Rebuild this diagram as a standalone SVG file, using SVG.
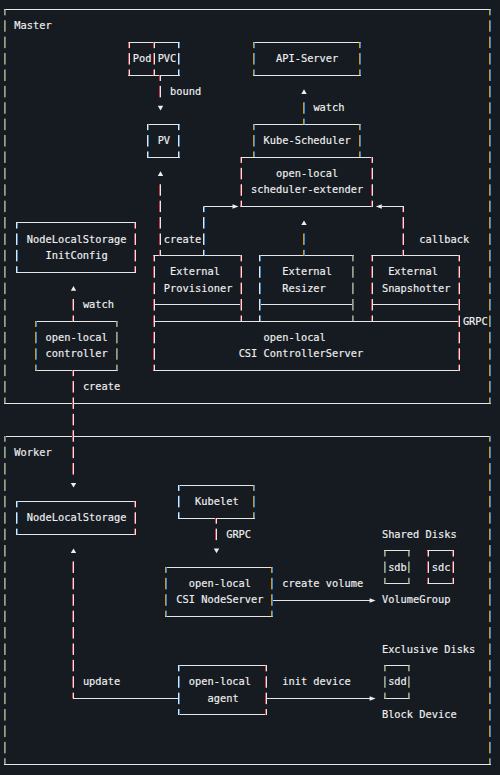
<svg xmlns="http://www.w3.org/2000/svg" width="500" height="775" viewBox="0 0 500 775">
<defs>
<style>
.h{stroke:#e6e6e6;stroke-width:1;fill:none}
.v{fill:none;stroke-width:1;stroke-dasharray:11.5 4.9;stroke-dashoffset:5.75}
.ya{stroke:#c49a30}.bl{stroke:#3f88c8}.rd{stroke:#c8404c}.wh{stroke:#e6e6e6}
text{font-family:"DejaVu Sans Mono","Liberation Mono",monospace;font-size:10.35px;fill:#f0f0f0;stroke:#f0f0f0;stroke-width:0.15}
.arr{fill:#eeeeee}
</style>
<path id="tu" d="M0-2.4L2.7 2.3H-2.7Z"/>
<path id="td" d="M0 2.4L2.7-2.3H-2.7Z"/>
<path id="tr" d="M3 0L-3-2.3V2.3Z"/>
<path id="tl" d="M-3 0L3-2.3V2.3Z"/>
</defs>
<rect width="500" height="775" fill="#161b22"/>

<g id="master">
<path class="h" d="M4 9.5H491M4 403.5H491"/>
<path class="v ya" d="M4.5 9.6V403.2M489.5 9.6V403.2"/>
<path class="v bl" d="M5.5 9.6V403.2M490.5 9.6V403.2"/>
<text x="14.35" y="29.4">Master</text>
</g>

<g id="worker">
<path class="h" d="M4 436.5H491M4 764.5H491"/>
<path class="v ya" d="M4.5 436V764M489.5 436V764"/>
<path class="v bl" d="M5.5 436V764M490.5 436V764"/>
<text x="14.35" y="455.8">Worker</text>
</g>

<g id="pod">
<path class="h" d="M128 42.5H155M128 75.5H155"/>
<path class="v rd" d="M128.5 42.4V75.2M153.5 42.4V75.2"/>
<path class="v wh" d="M129.5 42.4V75.2M154.5 42.4V75.2"/>
<text x="132.72" y="62.2">Pod</text>
</g>

<g id="pvc">
<path class="h" d="M154 42.5H180M154 75.5H180"/>
<path class="v wh" d="M178.5 42.4V75.2"/>
<path class="v bl" d="M179.5 42.4V75.2"/>
<text x="157.64" y="62.2">PVC</text>
</g>

<g id="api-server">
<path class="h" d="M253 42.5H361M253 75.5H361"/>
<path class="v ya" d="M253.5 42.4V75.2M359.5 42.4V75.2"/>
<path class="v bl" d="M254.5 42.4V75.2M360.5 42.4V75.2"/>
<text x="276" y="62.2">API-Server</text>
</g>

<g id="pv">
<path class="h" d="M147 124.5H180M147 157.5H180"/>
<path class="v wh" d="M147.5 124.4V157.2M178.5 124.4V157.2"/>
<path class="v bl" d="M148.5 124.4V157.2M179.5 124.4V157.2"/>
<text x="157.64" y="144.2">PV</text>
</g>

<g id="kube-scheduler">
<path class="h" d="M253 124.5H361"/>
<path class="v ya" d="M253.5 124.4V157.2M359.5 124.4V157.2"/>
<path class="v bl" d="M254.5 124.4V157.2M360.5 124.4V157.2"/>
<text x="263.55" y="144.2">Kube-Scheduler</text>
</g>

<g id="scheduler-extender">
<path class="h" d="M240 157.5H373M240 206.5H373"/>
<path class="v rd" d="M240.5 157.2V206.4M371.5 157.2V206.4"/>
<path class="v wh" d="M241.5 157.2V206.4M372.5 157.2V206.4"/>
<text x="276" y="177">open-local</text>
<text x="251.09" y="193.4">scheduler-extender</text>
</g>

<g id="nls-initconfig">
<path class="h" d="M16 222.5H136M16 272.5H136"/>
<path class="v wh" d="M16.5 222.8V272"/>
<path class="v bl" d="M17.5 222.8V272"/>
<path class="v rd" d="M134.5 222.8V272"/>
<path class="v wh" d="M135.5 222.8V272"/>
<text x="26.81" y="242.6">NodeLocalStorage</text>
<text x="45.5" y="259">InitConfig</text>
</g>

<g id="controller">
<path class="h" d="M35 321.5H118M35 370.5H118"/>
<path class="v ya" d="M35.5 321.2V370.4M116.5 321.2V370.4"/>
<path class="v bl" d="M36.5 321.2V370.4M117.5 321.2V370.4"/>
<text x="45.5" y="341">open-local</text>
<text x="45.5" y="357.4">controller</text>
</g>

<g id="external-provisioner">
<path class="h" d="M153 255.5H242M153 304.5H242"/>
<path class="v rd" d="M153.5 255.6V321.2M240.5 255.6V321.2"/>
<path class="v wh" d="M154.5 255.6V321.2M241.5 255.6V321.2"/>
<text x="170.1" y="275.4">External</text>
<text x="163.87" y="291.8">Provisioner</text>
</g>

<g id="external-resizer">
<path class="h" d="M259 255.5H354M259 304.5H354"/>
<path class="v wh" d="M259.5 255.6V321.2"/>
<path class="v bl" d="M260.5 255.6V321.2"/>
<path class="v ya" d="M352.5 255.6V321.2"/>
<path class="v bl" d="M353.5 255.6V321.2"/>
<text x="282.24" y="275.4">External</text>
<text x="282.24" y="291.8">Resizer</text>
</g>

<g id="external-snapshotter">
<path class="h" d="M371 255.5H460M371 304.5H460"/>
<path class="v rd" d="M371.5 255.6V321.2M458.5 255.6V321.2"/>
<path class="v wh" d="M372.5 255.6V321.2M459.5 255.6V321.2"/>
<text x="388.15" y="275.4">External</text>
<text x="381.92" y="291.8">Snapshotter</text>
</g>

<g id="csi-controllerserver">
<path class="h" d="M153 321.5H460M153 370.5H460"/>
<path class="v rd" d="M153.5 321.2V370.4M458.5 321.2V370.4"/>
<path class="v wh" d="M154.5 321.2V370.4M459.5 321.2V370.4"/>
<text x="263.55" y="341">open-local</text>
<text x="238.63" y="357.4">CSI ControllerServer</text>
<text x="462.9" y="324.6">GRPC</text>
</g>

<g id="nodelocalstorage">
<path class="h" d="M16 501.5H136M16 534.5H136"/>
<path class="v wh" d="M16.5 501.6V534.4"/>
<path class="v bl" d="M17.5 501.6V534.4"/>
<path class="v rd" d="M134.5 501.6V534.4"/>
<path class="v wh" d="M135.5 501.6V534.4"/>
<text x="26.81" y="521.4">NodeLocalStorage</text>
</g>

<g id="kubelet">
<path class="h" d="M178 485.5H255M178 518.5H255"/>
<path class="v wh" d="M178.5 485.2V518"/>
<path class="v bl" d="M179.5 485.2V518"/>
<path class="v ya" d="M253.5 485.2V518"/>
<path class="v bl" d="M254.5 485.2V518"/>
<text x="195.02" y="505">Kubelet</text>
</g>

<g id="csi-nodeserver">
<path class="h" d="M165 567.5H273M165 616.5H273"/>
<path class="v ya" d="M165.5 567.2V616.4M271.5 567.2V616.4"/>
<path class="v bl" d="M166.5 567.2V616.4M272.5 567.2V616.4"/>
<text x="188.79" y="587">open-local</text>
<text x="176.33" y="603.4">CSI NodeServer</text>
</g>

<g id="agent">
<path class="h" d="M178 665.5H267M178 714.5H267"/>
<path class="v wh" d="M178.5 665.6V714.8"/>
<path class="v bl" d="M179.5 665.6V714.8"/>
<path class="v rd" d="M265.5 665.6V714.8"/>
<path class="v wh" d="M266.5 665.6V714.8"/>
<text x="188.79" y="685.4">open-local</text>
<text x="207.48" y="701.8">agent</text>
</g>

<g id="sdb">
<path class="h" d="M384 550.5H410M384 583.5H410"/>
<path class="v ya" d="M384.5 550.8V583.6M408.5 550.8V583.6"/>
<path class="v bl" d="M385.5 550.8V583.6M409.5 550.8V583.6"/>
<text x="388.15" y="570.6">sdb</text>
</g>

<g id="sdc">
<path class="h" d="M427 550.5H454M427 583.5H454"/>
<path class="v rd" d="M427.5 550.8V583.6M452.5 550.8V583.6"/>
<path class="v wh" d="M428.5 550.8V583.6M453.5 550.8V583.6"/>
<text x="431.76" y="570.6">sdc</text>
</g>

<g id="sdd">
<path class="h" d="M384 665.5H410M384 698.5H410"/>
<path class="v ya" d="M384.5 665.6V698.4M408.5 665.6V698.4"/>
<path class="v bl" d="M385.5 665.6V698.4M409.5 665.6V698.4"/>
<text x="388.15" y="685.4">sdd</text>
</g>

<g id="labels">
<text x="381.92" y="537.8">Shared Disks</text>
<text x="381.92" y="603.4">VolumeGroup</text>
<text x="381.92" y="652.6">Exclusive Disks</text>
<text x="381.92" y="718.2">Block Device</text>
</g>

<g id="connectors">
<path class="v rd" d="M159.5 75.2V97.35M159.5 255.6V184.25M402.5 255.6V206.4M72.5 321.2V299.05M72.5 370.4V474.55M72.5 698.4V561.45M215.5 518V540.15"/>
<path class="v wh" d="M160.5 75.2V97.35M160.5 255.6V184.25M403.5 255.6V206.4M73.5 321.2V299.05M73.5 370.4V474.55M73.5 698.4V561.45M216.5 518V540.15M203.5 255.6V206.4"/>
<path class="v ya" d="M303.5 124.4V102.25M303.5 255.6V233.45"/>
<path class="v bl" d="M304.5 124.4V102.25M304.5 255.6V233.45M204.5 255.6V206.4"/>
<path class="h" d="M204 206.5H233M404 206.5H382M73 698.5H179M273 600.5H370M267 698.5H370"/>
<g class="arr">
<use href="#td" x="160.5" y="108"/>
<use href="#tu" x="304" y="91.6"/>
<use href="#tu" x="160.5" y="173.6"/>
<use href="#tr" x="235.5" y="206.5"/>
<use href="#tu" x="304" y="222.8"/>
<use href="#tl" x="378.8" y="206.5"/>
<use href="#tu" x="73.5" y="288.4"/>
<use href="#td" x="73.5" y="485.2"/>
<use href="#tu" x="73.5" y="550.8"/>
<use href="#td" x="216.5" y="550.8"/>
<use href="#tr" x="372.6" y="600.5"/>
<use href="#tr" x="372.6" y="698.5"/>
</g>
<text x="170.1" y="95">bound</text>
<text x="313.39" y="111.4">watch</text>
<text x="163.87" y="242.6">create</text>
<text x="419.3" y="242.6">callback</text>
<text x="82.88" y="308.2">watch</text>
<text x="82.88" y="390.2">create</text>
<text x="226.17" y="537.8">GRPC</text>
<text x="282.24" y="587">create volume</text>
<text x="82.88" y="685.4">update</text>
<text x="282.24" y="685.4">init device</text>
</g>
</svg>
